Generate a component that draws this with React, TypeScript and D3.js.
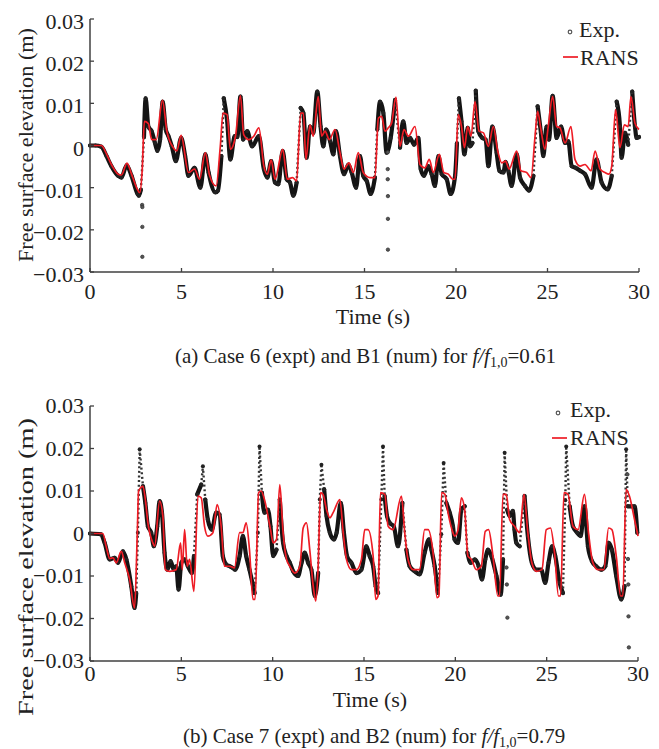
import React from "react";
import * as d3 from "d3";

// ---- data (time in s, elevation in mm; converted to m for plotting) ----
const xTicks = [0, 5, 10, 15, 20, 25, 30];
const xTickLabels = ["0", "5", "10", "15", "20", "25", "30"];
const yTicks = [-0.03, -0.02, -0.01, 0, 0.01, 0.02, 0.03];
const yTickLabels = ["\u22120.03", "\u22120.02", "\u22120.01", "0", "0.01", "0.02", "0.03"];
const seriesNames = ["Exp.", "RANS"];

const topExp: [number, number][] = [
  [0,0],[0.3,0],[0.62,-0.3],[0.9,-2.5],[1.17,-4.9],[1.54,-7.2],[1.72,-7.6],[2.0,-4.7],[2.27,-7.2],[2.6,-11.5],[2.67,-11.9],[2.78,-10.5],[2.95,2.0],[3.04,11.2],[3.19,4.5],[3.37,3.4],[3.55,0.6],[3.68,-1.3],[3.83,1.4],[3.97,10.4],[4.14,3.8],[4.29,2.2],[4.47,-0.2],[4.69,-3.7],[4.98,1.8],[5.2,-2.5],[5.38,-7.2],[5.71,-5.3],[6.03,-10.0],[6.3,-2.1],[6.48,-6.4],[6.85,-11.1],[6.99,-10.7],[7.18,-2.5],[7.31,11.2],[7.49,6.1],[7.67,-3.3],[7.91,2.2],[8.05,2.0],[8.22,11.6],[8.37,1.4],[8.59,3.4],[8.86,-0.2],[9.23,2.2],[9.5,-5.6],[9.69,-7.6],[9.9,-3.7],[10.11,-8.8],[10.29,-9.2],[10.53,-1.3],[10.75,-8.0],[10.93,-8.8],[11.11,-11.9],[11.29,-8.8],[11.51,8.9],[11.66,7.7],[11.84,-2.9],[12.02,4.5],[12.2,3.0],[12.42,12.8],[12.6,4.5],[12.75,-0.2],[12.9,3.8],[13.12,1.0],[13.3,-2.1],[13.44,3.4],[13.66,-2.5],[13.88,-6.8],[14.12,-4.5],[14.3,-6.4],[14.54,-10.0],[14.75,-2.5],[14.93,-7.2],[15.12,-8.4],[15.34,-11.5],[15.57,-7.6],[15.7,3.8],[15.85,10.4],[16.03,7.7],[16.21,-1.7],[16.43,1.8],[16.67,10.8],[16.94,-0.5],[17.12,5.7],[17.3,0.6],[17.49,1.8],[17.71,0.2],[17.94,1.8],[18.07,-5.6],[18.25,-7.2],[18.49,-4.9],[18.67,-6.8],[18.85,-9.6],[19.04,-2.5],[19.22,-6.8],[19.49,-8.0],[19.71,-11.5],[19.95,-7.2],[20.05,0.5],[20.16,11.2],[20.3,5.7],[20.46,-2.1],[20.64,4.2],[20.77,-0.2],[20.9,0.6],[21.08,13.0],[21.22,3.4],[21.44,1.8],[21.62,1.4],[21.77,-4.9],[21.99,4.5],[22.22,-1.7],[22.37,-6.0],[22.59,-6.4],[22.71,-3.9],[22.86,-6.0],[23.04,-9.6],[23.32,-2.1],[23.5,-7.6],[23.77,-9.6],[23.99,-10.7],[24.23,-7.2],[24.46,9.3],[24.64,3.0],[24.77,-2.5],[24.95,4.5],[25.08,1.4],[25.28,11.8],[25.5,1.8],[25.74,4.5],[25.96,0.6],[26.14,1.0],[26.32,-4.9],[26.54,-5.3],[26.78,-6.0],[27.05,-6.8],[27.41,-10.0],[27.68,-3.3],[27.96,-8.8],[28.29,-10.4],[28.51,-7.2],[28.78,10.4],[28.96,4.5],[29.05,-2.9],[29.23,3.0],[29.41,0.2],[29.63,12.8],[29.78,4.5],[29.87,1.8],[30.0,2.0]
];
const topExpOutliers: [number, number][] = [
  [2.85,-14.1],[2.86,-14.6],[2.86,-19.3],[2.86,-26.4],
  [16.27,-1.6],[16.27,-5.6],[16.27,-8.0],[16.28,-12.0],[16.28,-17.4],[16.28,-24.7]
];
const topRans: [number, number][] = [
  [0,0],[0.62,0],[0.9,-2.0],[1.17,-4.5],[1.54,-6.8],[1.72,-7.0],[2.02,-4.2],[2.27,-6.8],[2.6,-10.5],[2.72,-11.2],[2.85,-6.0],[2.97,5.7],[3.19,5.2],[3.37,1.4],[3.62,1.4],[3.96,10.7],[4.2,3.4],[4.55,-0.5],[4.74,-1.3],[4.98,2.4],[5.38,-6.4],[5.71,-5.6],[5.99,-8.0],[6.3,-1.7],[6.54,-7.2],[6.89,-9.6],[7.12,-0.2],[7.27,7.7],[7.49,7.3],[7.67,-0.9],[7.95,2.2],[8.22,11.8],[8.4,2.6],[8.68,1.4],[8.95,2.2],[9.23,4.2],[9.5,-4.9],[9.69,-6.8],[9.9,-3.4],[10.11,-8.0],[10.53,-0.9],[10.78,-8.0],[11.07,-7.6],[11.29,-8.4],[11.51,7.7],[11.66,7.7],[11.8,-3.3],[12.02,4.9],[12.2,2.2],[12.47,11.6],[12.66,2.2],[12.84,3.4],[13.08,1.4],[13.39,3.8],[13.66,-1.7],[13.88,-5.6],[14.15,-4.1],[14.39,-6.4],[14.66,-1.7],[14.93,-6.4],[15.3,-7.6],[15.57,-7.6],[15.76,6.5],[15.94,6.9],[16.12,3.4],[16.3,4.2],[16.48,5.3],[16.72,11.5],[16.94,-0.2],[17.16,3.8],[17.4,2.2],[17.76,4.5],[18.03,-4.5],[18.3,-5.3],[18.54,-3.3],[18.76,-6.4],[19.09,-2.1],[19.33,-6.4],[19.58,-6.8],[19.82,-8.0],[19.95,-8.0],[20.12,7.3],[20.3,4.5],[20.46,-0.5],[20.64,4.5],[20.82,2.2],[21.04,10.4],[21.26,3.4],[21.5,3.0],[21.77,-0.2],[22.04,4.5],[22.28,-1.3],[22.5,-4.1],[22.71,-3.7],[22.9,-5.6],[23.32,-1.3],[23.55,-6.0],[23.86,-6.4],[24.1,-7.6],[24.32,2.2],[24.46,8.1],[24.64,3.8],[24.86,-0.9],[25.04,4.5],[25.28,11.6],[25.5,4.5],[25.68,4.2],[25.96,0.6],[26.28,4.5],[26.5,-3.3],[26.78,-4.9],[27.05,-4.5],[27.38,-6.0],[27.6,-1.3],[27.87,-5.6],[28.14,-6.4],[28.36,-6.8],[28.51,-4.9],[28.72,8.5],[28.96,-0.5],[29.2,4.9],[29.41,4.5],[29.56,11.6],[29.78,5.3],[30.0,3.8]
];

const botExp: [number, number][] = [
  [0,0],[0.6,-0.2],[0.8,-2.2],[1.08,-6.1],[1.35,-5.7],[1.53,-6.9],[1.8,-4.2],[1.99,-6.1],[2.26,-12.4],[2.44,-17.5],[2.53,-14.0],[2.62,0.2],[2.72,19.8],[2.9,11.1],[3.03,7.2],[3.17,1.7],[3.35,0.2],[3.5,-3.0],[3.68,1.7],[3.81,7.6],[3.94,4.9],[4.08,-4.5],[4.23,-8.5],[4.41,-6.5],[4.59,-8.5],[4.72,-7.7],[4.85,-13.2],[5.0,-6.9],[5.18,-6.1],[5.36,-7.7],[5.58,-9.3],[5.69,-5.3],[5.87,9.2],[6.09,11.5],[6.18,15.8],[6.31,8.0],[6.45,3.3],[6.67,0.9],[6.91,4.9],[7.09,4.5],[7.27,-5.3],[7.46,-7.3],[7.64,-7.7],[7.82,-8.1],[7.95,-8.5],[8.19,-5.3],[8.37,-0.6],[8.55,-5.3],[8.73,-8.5],[9.01,-14.0],[9.19,0.2],[9.28,20.5],[9.41,9.6],[9.55,4.9],[9.74,5.6],[9.88,1.7],[10.03,-5.3],[10.21,-3.8],[10.39,8.0],[10.57,-2.2],[10.76,-5.3],[10.94,-6.9],[11.12,-8.9],[11.39,-10.0],[11.58,-6.9],[11.76,-4.5],[11.94,-6.9],[12.12,-8.5],[12.31,-14.7],[12.49,-9.3],[12.58,8.0],[12.67,16.2],[12.82,10.4],[12.95,4.1],[13.13,0.2],[13.35,-1.4],[13.5,0.2],[13.73,7.2],[13.9,0.2],[14.07,-5.3],[14.31,-6.9],[14.59,-9.3],[14.86,-8.5],[15.13,-3.0],[15.31,-5.3],[15.5,-7.7],[15.64,-12.4],[15.77,-14.0],[15.95,8.0],[16.04,20.5],[16.13,8.8],[16.26,4.1],[16.41,2.5],[16.63,1.7],[16.86,-3.0],[17.1,7.2],[17.32,-3.8],[17.5,-7.7],[17.78,-8.9],[18.05,-9.6],[18.32,-4.5],[18.56,-1.4],[18.69,-3.8],[18.87,-7.7],[19.05,-14.0],[19.23,-0.2],[19.36,16.6],[19.51,7.2],[19.69,4.9],[19.87,1.7],[19.96,-1.4],[20.15,-2.2],[20.33,5.6],[20.51,6.4],[20.66,-4.5],[20.84,-6.9],[21.06,-6.1],[21.28,-7.7],[21.46,-10.8],[21.64,-6.1],[21.79,-3.8],[21.97,-5.3],[22.25,-10.0],[22.48,-14.4],[22.61,-6.1],[22.7,19.0],[22.84,5.6],[22.97,4.1],[23.15,5.3],[23.24,0.9],[23.34,-2.2],[23.52,-3.0],[23.79,8.8],[23.97,-0.6],[24.19,-6.9],[24.43,-8.5],[24.7,-8.5],[24.92,-11.6],[25.1,-6.9],[25.3,-3.0],[25.47,-5.3],[25.71,-11.6],[25.89,-14.0],[26.02,7.8],[26.07,20.5],[26.26,6.4],[26.44,1.7],[26.67,0.2],[26.86,-0.6],[27.07,6.4],[27.26,-3.0],[27.48,-6.5],[27.71,-7.7],[27.99,-8.5],[28.21,-7.7],[28.39,-2.2],[28.57,-3.8],[28.81,-10.0],[29.08,-15.5],[29.26,-12.4],[29.35,19.8],[29.44,6.4],[29.62,6.4],[29.81,6.4],[29.96,0.2]
];
const botExpOutliers: [number, number][] = [
  [22.8,-8.0],[22.82,-12.0],[22.85,-19.8],[29.42,13.9],[29.45,-6.0],[29.47,-12.0],[29.48,-19.5],[29.5,-26.8]
];
const botRans: [number, number][] = [
  [0,0],[0.7,0],[0.9,-3.3],[1.08,-5.9],[1.26,-5.7],[1.44,-6.9],[1.71,-4.2],[1.9,-6.9],[2.17,-10.8],[2.44,-17.5],[2.59,0.2],[2.66,10.0],[2.9,11.1],[3.03,8.0],[3.17,2.5],[3.44,-2.2],[3.54,-3.0],[3.81,7.6],[3.99,4.1],[4.12,-8.5],[4.36,-8.9],[4.72,-8.5],[4.96,-2.2],[5.05,-8.5],[5.18,0.9],[5.32,-7.7],[5.45,-6.1],[5.69,-13.6],[5.91,8.8],[6.09,8.4],[6.27,1.7],[6.45,-0.6],[6.73,0.2],[6.96,6.8],[7.18,1.7],[7.36,-7.7],[7.64,-7.7],[7.91,-8.1],[8.19,0.2],[8.37,0.2],[8.55,2.5],[8.73,-3.8],[8.92,-15.5],[9.04,-15.5],[9.23,9.6],[9.37,10.0],[9.55,8.0],[9.88,1.0],[10.03,-2.2],[10.21,-1.4],[10.39,11.5],[10.57,0.2],[10.76,-6.1],[10.94,-7.7],[11.21,-9.3],[11.49,-7.7],[11.67,1.3],[11.85,2.5],[12.03,-3.8],[12.22,-12.4],[12.36,-15.9],[12.49,-7.7],[12.62,9.6],[12.76,9.2],[12.95,5.6],[13.13,3.7],[13.31,4.9],[13.68,8.0],[13.86,0.2],[14.04,-6.1],[14.31,-8.5],[14.59,-8.5],[14.86,-6.1],[15.04,0.9],[15.22,0.9],[15.5,-5.3],[15.64,-15.5],[15.77,-14.7],[15.9,9.6],[16.14,9.2],[16.32,1.7],[16.59,0.9],[17.05,8.8],[17.23,0.2],[17.41,-6.1],[17.69,-8.5],[18.05,-8.5],[18.32,0.9],[18.51,0.9],[18.78,-4.5],[19.0,-15.1],[19.1,-14.7],[19.25,9.6],[19.43,9.2],[19.6,4.9],[19.87,0.2],[19.96,-0.6],[20.15,0.9],[20.33,8.4],[20.51,5.6],[20.69,-5.3],[20.88,-6.1],[21.15,-8.5],[21.42,-7.7],[21.64,0.5],[21.82,0.9],[22.06,-5.3],[22.33,-14.7],[22.42,-14.7],[22.61,9.2],[22.79,9.2],[22.97,3.3],[23.24,1.7],[23.52,0.2],[23.76,9.2],[23.97,0.2],[24.19,-6.9],[24.43,-8.9],[24.74,-8.5],[24.98,0.9],[25.21,1.3],[25.43,-4.5],[25.65,-14.7],[25.76,-14.7],[25.95,9.6],[26.17,9.2],[26.44,1.7],[26.72,0.9],[27.07,9.2],[27.29,0.2],[27.53,-6.9],[27.8,-8.5],[28.13,-8.5],[28.39,1.3],[28.57,0.9],[28.81,-5.3],[29.05,-14.7],[29.17,-14.7],[29.35,10.4],[29.53,8.8],[29.81,3.3],[30.0,-0.6]
];

const FONT = "'Liberation Serif', 'Times New Roman', serif";

type Layout = {
  x0: number; x1: number; yTop: number; yBot: number;
  xLabBase: number; yLabOffset: number; timeX: number; timeY: number;
  yLabCenter: number; yLabLen: number;
  legDotX: number; legDotY: number; legExpX: number; legExpY: number;
  legLineX0: number; legLineX1: number; legLineY: number; legRansX: number; legRansY: number;
  capX: number; capY: number; capId: string; capCase: string; capNum: string; capVal: string;
};

type Pt = [number, number];

function Panel({ exp, outliers, rans, L }: { exp: Pt[]; outliers: Pt[]; rans: Pt[]; L: Layout }) {
  const x = d3.scaleLinear().domain([0, 30]).range([L.x0, L.x1]);
  const y = d3.scaleLinear().domain([-0.03, 0.03]).range([L.yBot, L.yTop]);
  const line = d3
    .line<Pt>()
    .x((d) => x(d[0]))
    .y((d) => y(d[1] / 1000))
    .curve(d3.curveMonotoneX);

  // split the experimental record: very steep / spiky parts are drawn as sparse dots
  const spikeY = y(0.0145);
  const runs: Pt[][] = [];
  const steep: [Pt, Pt][] = [];
  let cur: Pt[] = [exp[0]];
  for (let i = 0; i < exp.length - 1; i++) {
    const a = exp[i];
    const b = exp[i + 1];
    const ya = y(a[1] / 1000);
    const yb = y(b[1] / 1000);
    const dy = Math.abs(yb - ya);
    const dx = Math.abs(x(b[0]) - x(a[0]));
    const isSteep = (dy > 45 && dy > 8 * dx) || ya < spikeY || yb < spikeY;
    if (isSteep) {
      if (cur.length > 1) runs.push(cur);
      steep.push([a, b]);
      cur = [b];
    } else {
      cur.push(b);
    }
  }
  if (cur.length > 1) runs.push(cur);

  const axisColor = "#404040";
  return (
    <g fontFamily={FONT}>
      {/* Exp. data */}
      {runs.map((r, i) => (
        <path key={"r" + i} d={line(r) || ""} fill="none" stroke="#141414" strokeWidth={4.2} strokeLinejoin="round" strokeLinecap="round" />
      ))}
      {steep.map((s, i) => (
        <line
          key={"s" + i}
          x1={x(s[0][0])}
          y1={y(s[0][1] / 1000)}
          x2={x(s[1][0])}
          y2={y(s[1][1] / 1000)}
          stroke="#333"
          strokeWidth={2.4}
          strokeDasharray="2 2.6"
        />
      ))}
      {exp.map((d, i) => (
        <circle key={"e" + i} cx={x(d[0])} cy={y(d[1] / 1000)} r={2} fill="#222" />
      ))}
      {outliers.map((d, i) => (
        <circle key={"o" + i} cx={x(d[0])} cy={y(d[1] / 1000)} r={1.7} fill="#555" stroke="#333" strokeWidth={0.8} />
      ))}
      {/* RANS */}
      <path d={line(rans) || ""} fill="none" stroke="#ee1c25" strokeWidth={1.7} strokeLinejoin="round" />
      {/* axes */}
      <line x1={L.x0} x2={L.x0} y1={L.yTop} y2={L.yBot} stroke={axisColor} strokeWidth={1.5} />
      <line x1={L.x0} x2={L.x1} y1={L.yBot} y2={L.yBot} stroke={axisColor} strokeWidth={1.5} />
      {xTicks.map((t, i) => (
        <g key={"xt" + i}>
          <line x1={x(t)} x2={x(t)} y1={L.yBot} y2={L.yBot - 4} stroke={axisColor} strokeWidth={1.3} />
          <text x={x(t)} y={L.xLabBase} textAnchor="middle" fontSize={22} fill="#222">
            {xTickLabels[i]}
          </text>
        </g>
      ))}
      {yTicks.map((t, i) => (
        <g key={"yt" + i}>
          <line x1={L.x0} x2={L.x0 + 4} y1={y(t)} y2={y(t)} stroke={axisColor} strokeWidth={1.3} />
          <text x={L.x0 - 6} y={y(t) + L.yLabOffset} textAnchor="end" fontSize={22} fill="#222">
            {yTickLabels[i]}
          </text>
        </g>
      ))}
      <text x={L.timeX} y={L.timeY} textAnchor="middle" fontSize={22} fill="#222">
        Time (s)
      </text>
      <text
        transform={`translate(33,${L.yLabCenter}) rotate(-90)`}
        textAnchor="middle"
        fontSize={22}
        fill="#222"
        textLength={L.yLabLen}
        lengthAdjust="spacingAndGlyphs"
      >
        Free surface elevation (m)
      </text>
      {/* legend */}
      <circle cx={L.legDotX} cy={L.legDotY} r={1.8} fill="none" stroke="#555" strokeWidth={1.2} />
      <text x={L.legExpX} y={L.legExpY} fontSize={22} fill="#222">
        {seriesNames[0]}
      </text>
      <line x1={L.legLineX0} x2={L.legLineX1} y1={L.legLineY} y2={L.legLineY} stroke="#ee1c25" strokeWidth={1.7} />
      <text x={L.legRansX} y={L.legRansY} fontSize={22} fill="#222">
        {seriesNames[1]}
      </text>
      {/* caption */}
      <text x={L.capX} y={L.capY} fontSize={21} fill="#222">
        {`(${L.capId}) ${L.capCase} (expt) and ${L.capNum} (num) for `}
        <tspan fontStyle="italic">f/f</tspan>
        <tspan fontSize={14} dy={4}>1,0</tspan>
        <tspan dy={-4}>{`=${L.capVal}`}</tspan>
      </text>
    </g>
  );
}

const topLayout: Layout = {
  x0: 90, x1: 639, yTop: 19, yBot: 272,
  xLabBase: 299, yLabOffset: 10, timeX: 373, timeY: 324,
  yLabCenter: 145, yLabLen: 234,
  legDotX: 570, legDotY: 32, legExpX: 579, legExpY: 37,
  legLineX0: 563, legLineX1: 578, legLineY: 57, legRansX: 580, legRansY: 65,
  capX: 175, capY: 363, capId: "a", capCase: "Case 6", capNum: "B1", capVal: "0.61",
};
const botLayout: Layout = {
  x0: 90, x1: 638, yTop: 406, yBot: 661,
  xLabBase: 681, yLabOffset: 7, timeX: 370, timeY: 707,
  yLabCenter: 567, yLabLen: 298,
  legDotX: 558, legDotY: 413, legExpX: 570, legExpY: 417,
  legLineX0: 552, legLineX1: 567, legLineY: 438, legRansX: 570, legRansY: 445,
  capX: 183, capY: 743, capId: "b", capCase: "Case 7", capNum: "B2", capVal: "0.79",
};

export default function App() {
  return (
    <svg
      width={659}
      height={749}
      style={{ position: "absolute", left: 0, top: 0, background: "#fff" }}
    >
      <rect x={0} y={0} width={659} height={749} fill="#fff" />
      <Panel exp={topExp} outliers={topExpOutliers} rans={topRans} L={topLayout} />
      <Panel exp={botExp} outliers={botExpOutliers} rans={botRans} L={botLayout} />
    </svg>
  );
}
